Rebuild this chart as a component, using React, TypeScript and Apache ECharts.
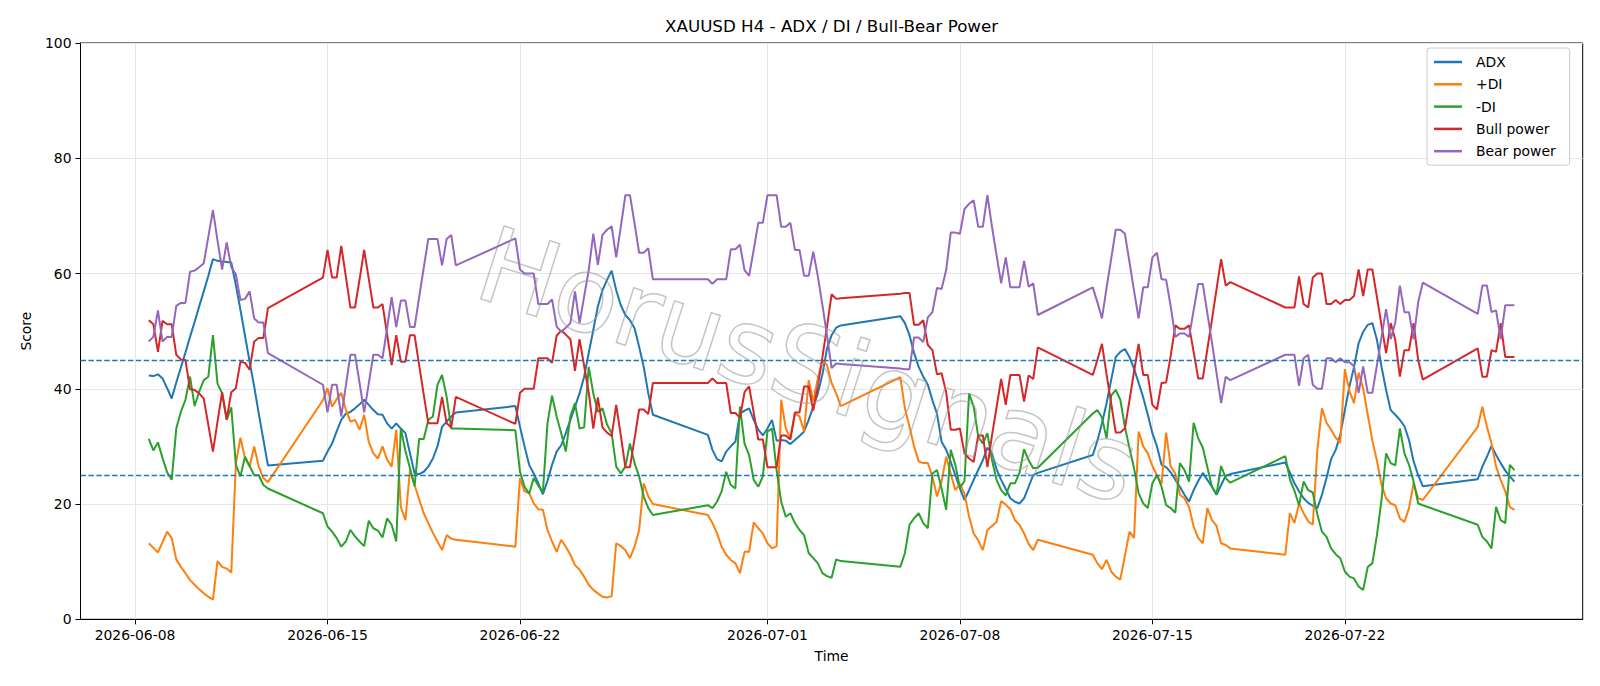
import React, { useEffect, useRef } from "react";
import * as echarts from "echarts";

// 4H bar sessions: [first bar (UTC), number of bars]
const sessions: [string, number][] = [
  ["2026-06-08T12:00:00Z", 27],
  ["2026-06-14T20:00:00Z", 30],
  ["2026-06-21T20:00:00Z", 31],
  ["2026-06-28T20:00:00Z", 30],
  ["2026-07-05T20:00:00Z", 31],
  ["2026-07-12T20:00:00Z", 31],
  ["2026-07-19T20:00:00Z", 31],
  ["2026-07-26T20:00:00Z", 9],
];

const tickDates = ["2026-06-08", "2026-06-15", "2026-06-22", "2026-07-01", "2026-07-08", "2026-07-15", "2026-07-22"];
const refLines = [45, 25];

const adx = [
  42.3, 42.2, 42.5, 41.8, 40.1, 38.3, 41.1, 43.7, 46.3, 49.0, 51.6, 54.3, 56.9, 59.6, 62.5, 62.2, 62.1, 62.0, 61.9, 58.0, 53.7, 49.2, 44.7, 40.4, 35.7, 31.2, 26.7,
  27.5, 29.1, 30.5, 32.6, 34.6, 35.7, 36.0, 36.6, 37.3, 38.1, 37.2, 36.3, 35.6, 35.5, 34.0, 33.1, 34.0, 33.1, 32.3, 28.8, 25.3, 25.2, 25.6, 26.5, 27.9, 30.0, 33.4, 34.3, 35.2, 35.9,
  37.0, 33.4, 30.0, 26.8, 25.3, 23.6, 21.7, 24.0, 26.8, 29.1, 30.2, 32.3, 34.6, 36.9, 39.2, 42.1, 46.2, 50.2, 54.3, 57.1, 58.9, 60.5, 57.1, 54.5, 52.8, 51.9, 50.5, 47.3, 43.8, 39.2, 35.5,
  32.0, 29.4, 27.8, 27.4, 29.1, 30.0, 30.8, 35.7, 36.2, 36.6, 34.6, 32.9, 31.9, 33.1, 34.6, 31.0, 31.1, 31.0, 30.4, 31.1, 31.8, 32.6, 34.6, 36.9, 39.2, 42.5, 47.0, 49.3, 50.6, 51.0,
  52.6, 51.4, 49.3, 46.2, 43.8, 42.1, 40.7, 38.0, 35.7, 30.8, 29.4, 27.3, 25.0, 22.7, 20.7, 22.4, 24.2, 25.9, 27.6, 29.8, 28.8, 26.0, 24.2, 22.6, 21.0, 20.4, 20.1, 21.0, 23.0, 25.0, 25.4,
  28.5, 31.0, 34.0, 37.5, 41.5, 45.5, 46.4, 46.9, 45.5, 43.5, 41.0, 38.5, 35.5, 32.3, 30.0, 26.8, 26.4, 25.5, 24.2, 23.0, 21.6, 20.4, 22.4, 24.0, 25.4, 24.2, 23.0, 21.6, 23.3, 24.9, 25.2,
  27.2, 25.5, 23.6, 22.2, 21.0, 20.2, 19.7, 19.3, 21.6, 24.5, 27.8, 29.4, 32.0, 36.3, 40.4, 43.8, 47.9, 49.9, 51.1, 51.4, 48.5, 43.8, 39.8, 36.3, 35.5, 34.6, 33.5, 31.1, 27.4, 25.0, 23.1,
  24.3, 26.5, 28.2, 30.1, 28.5, 27.1, 25.8, 24.8, 23.9,
];

const plusDI = [
  13.2, 12.4, 11.6, 13.4, 15.2, 14.1, 10.4, 9.1, 8.0, 6.8, 6.0, 5.2, 4.5, 3.9, 3.4, 10.1, 9.1, 8.8, 8.1, 27.0, 31.5, 28.0, 26.5, 30.0, 26.5, 24.5, 23.8,
  38.0, 40.1, 36.9, 38.2, 39.3, 36.4, 34.3, 34.6, 32.9, 35.5, 30.8, 28.8, 27.9, 30.0, 27.7, 26.5, 32.9, 19.5, 17.2, 25.9, 23.3, 20.8, 18.4, 16.7, 15.0, 13.5, 12.0, 14.6, 14.0, 13.8,
  12.6, 24.5, 22.2, 21.9, 20.1, 19.1, 19.0, 15.5, 13.5, 11.7, 13.8, 12.6, 11.2, 9.4, 8.6, 7.4, 6.0, 5.1, 4.5, 3.9, 3.8, 4.0, 13.2, 12.7, 12.0, 10.6, 12.6, 15.5, 23.6, 21.3, 20.0,
  18.1, 16.7, 14.9, 12.6, 11.2, 10.3, 9.7, 8.0, 11.7, 11.7, 16.8, 15.8, 14.9, 13.2, 12.3, 12.7, 38.1, 33.1, 31.4, 35.7, 35.2, 32.6, 41.5, 37.8, 41.8, 45.0, 44.1, 41.0, 39.2, 37.0,
  42.0, 36.6, 33.4, 30.0, 27.4, 27.1, 27.1, 24.8, 21.3, 23.9, 28.2, 25.3, 22.4, 23.5, 21.8, 17.8, 14.9, 13.7, 12.0, 15.5, 16.2, 16.9, 20.5, 19.9, 19.1, 17.2, 16.4, 14.9, 13.1, 12.0, 13.8,
  11.2, 9.7, 8.7, 10.3, 8.3, 7.4, 6.9, 11.0, 15.2, 14.1, 32.6, 30.0, 28.8, 26.6, 25.0, 23.5, 32.4, 26.5, 25.3, 21.6, 21.0, 19.5, 16.1, 14.1, 13.2, 19.3, 17.2, 16.2, 13.2, 12.9, 12.3,
  11.2, 18.4, 16.7, 20.1, 18.4, 17.0, 16.4, 29.4, 36.6, 34.1, 32.9, 31.5, 30.6, 43.4, 39.6, 37.5, 42.8, 40.0, 35.5, 31.0, 27.5, 23.3, 21.0, 20.1, 19.8, 17.5, 16.9, 19.3, 23.6, 21.0, 20.7,
  33.4, 36.9, 33.4, 30.5, 26.5, 24.2, 22.2, 19.5, 19.0,
];

const minusDI = [
  31.3, 29.3, 30.7, 28.0, 25.5, 24.2, 33.1, 36.0, 38.1, 42.1, 37.0, 39.5, 41.5, 42.1, 49.3, 40.9, 39.2, 34.6, 36.8, 26.8, 24.8, 28.2, 26.6, 25.0, 25.0, 23.3, 22.7,
  18.4, 16.1, 15.2, 14.1, 12.6, 13.5, 15.5, 14.4, 13.5, 12.7, 17.1, 15.8, 15.4, 14.2, 17.5, 16.4, 13.5, 33.1, 29.2, 26.2, 23.1, 31.3, 31.3, 34.6, 35.2, 40.7, 42.4, 38.6, 33.1, 33.1,
  32.8, 25.6, 23.0, 21.8, 24.5, 23.2, 22.0, 34.0, 38.8, 35.2, 32.3, 29.1, 35.2, 37.5, 33.1, 33.3, 43.8, 39.2, 36.0, 36.6, 33.8, 32.3, 26.5, 25.3, 26.5, 30.5, 27.1, 24.8, 21.3, 19.3, 18.1,
  19.8, 19.3, 20.4, 22.2, 25.6, 23.3, 22.7, 36.9, 30.5, 28.5, 24.2, 23.0, 24.8, 32.6, 33.1, 25.9, 20.4, 17.8, 18.4, 16.7, 15.5, 14.6, 11.5, 10.6, 9.7, 8.0, 7.5, 7.2, 10.4, 10.1,
  9.1, 11.5, 16.4, 17.5, 18.4, 16.7, 15.8, 25.3, 25.9, 22.7, 19.0, 29.4, 26.8, 22.8, 24.0, 39.2, 36.9, 31.7, 30.5, 32.3, 27.6, 24.2, 22.4, 21.5, 23.6, 23.6, 25.4, 29.5, 27.6, 26.2, 26.3,
  35.7, 36.3, 35.0, 31.4, 38.8, 39.8, 38.1, 33.4, 29.7, 26.2, 21.9, 20.1, 19.3, 23.6, 25.0, 23.0, 19.8, 19.3, 18.5, 27.1, 25.9, 23.9, 34.1, 31.4, 29.8, 26.4, 23.0, 21.7, 26.6, 24.5, 23.7,
  28.3, 24.3, 22.3, 19.8, 23.9, 22.4, 22.0, 18.2, 15.2, 14.3, 12.3, 11.3, 10.6, 8.3, 7.4, 7.1, 5.7, 5.1, 9.1, 9.7, 14.6, 20.7, 28.8, 27.1, 26.7, 33.1, 28.8, 26.8, 23.9, 20.1, 19.8,
  16.4, 14.3, 13.5, 12.3, 19.5, 17.2, 16.7, 26.8, 25.9,
];

const bullPower = [
  51.9, 51.2, 46.4, 51.8, 51.2, 51.2, 45.9, 45.1, 45.0, 39.9, 39.8, 39.2, 38.3, 33.7, 29.1, 34.3, 39.4, 34.7, 39.4, 40.1, 44.7, 44.5, 43.3, 48.2, 48.8, 48.8, 54.0,
  59.3, 64.1, 59.3, 59.3, 64.8, 59.5, 54.1, 54.1, 59.0, 64.1, 59.1, 54.1, 54.1, 54.7, 49.5, 44.1, 49.3, 44.7, 44.7, 49.3, 49.3, 44.1, 39.0, 34.0, 34.0, 34.0, 38.6, 34.0, 33.3, 38.6,
  33.9, 39.3, 40.0, 40.0, 40.0, 45.3, 45.3, 45.3, 44.5, 49.2, 50.1, 49.4, 48.6, 43.1, 48.6, 44.0, 39.4, 33.1, 38.5, 33.3, 32.4, 31.8, 37.2, 31.9, 26.4, 26.4, 31.3, 36.4, 36.4, 35.6, 41.0,
  41.0, 41.8, 41.0, 41.0, 41.0, 35.8, 35.8, 35.0, 39.4, 40.4, 35.9, 31.2, 31.2, 26.4, 26.4, 26.4, 31.9, 31.9, 31.2, 35.9, 35.9, 40.4, 40.4, 36.2, 40.5, 45.5, 50.8, 56.4, 55.6, 55.7,
  56.5, 56.6, 56.6, 51.1, 51.1, 51.9, 47.6, 46.7, 42.5, 42.7, 39.4, 32.9, 32.9, 33.1, 28.8, 27.9, 27.3, 31.9, 31.9, 26.4, 31.9, 36.8, 41.7, 37.2, 42.4, 42.4, 42.4, 37.8, 42.3, 41.7, 47.2,
  42.4, 45.0, 47.8, 42.5, 37.5, 32.4, 32.4, 33.1, 38.0, 43.0, 47.8, 42.4, 42.4, 37.2, 36.4, 41.0, 41.1, 45.7, 51.0, 50.4, 50.4, 51.0, 46.4, 41.8, 41.8, 46.9, 52.0, 57.3, 62.5, 57.9, 58.5,
  54.1, 54.1, 54.1, 59.5, 54.7, 54.1, 59.3, 60.0, 60.0, 54.7, 54.7, 55.4, 54.7, 55.4, 55.4, 56.1, 60.7, 56.1, 60.7, 60.7, 55.9, 51.0, 46.2, 51.4, 48.5, 42.1, 46.7, 46.7, 51.4, 45.0, 41.6,
  47.0, 42.1, 42.1, 46.7, 46.4, 51.4, 45.5, 45.5, 45.5,
];

const bearPower = [
  48.2, 49.0, 53.6, 48.2, 49.0, 49.0, 54.4, 54.9, 54.9, 60.3, 60.5, 61.1, 61.8, 66.4, 71.0, 65.7, 60.7, 65.4, 61.1, 59.9, 55.4, 55.6, 56.9, 52.2, 51.5, 51.5, 46.2,
  40.7, 35.9, 40.7, 40.7, 35.2, 40.5, 45.9, 45.9, 41.0, 35.9, 40.9, 45.9, 45.9, 45.3, 50.5, 55.9, 50.7, 55.3, 55.3, 50.7, 50.7, 55.9, 61.0, 66.0, 66.0, 66.0, 61.4, 66.0, 66.7, 61.4,
  66.1, 60.7, 60.0, 60.0, 60.0, 54.7, 54.7, 54.7, 55.5, 50.8, 49.9, 50.6, 51.4, 56.9, 51.4, 56.0, 60.6, 66.9, 61.5, 66.7, 67.6, 68.2, 62.8, 68.1, 73.6, 73.6, 68.7, 63.6, 63.6, 64.4, 59.0,
  59.0, 58.2, 59.0, 59.0, 59.0, 64.2, 64.2, 65.0, 60.6, 59.6, 64.1, 68.8, 68.8, 73.6, 73.6, 73.6, 68.1, 68.1, 68.8, 64.1, 64.1, 59.6, 59.6, 63.8, 59.5, 54.5, 49.2, 43.6, 44.4, 44.3,
  43.5, 43.4, 43.4, 48.9, 48.9, 48.1, 52.4, 53.3, 57.5, 57.3, 60.6, 67.1, 67.1, 66.9, 71.2, 72.1, 72.7, 68.1, 68.1, 73.6, 68.1, 63.2, 58.3, 62.8, 57.6, 57.6, 57.6, 62.2, 57.7, 58.3, 52.8,
  57.6, 55.0, 52.2, 57.5, 62.5, 67.6, 67.6, 66.9, 62.0, 57.0, 52.2, 57.6, 57.6, 62.8, 63.6, 59.0, 58.9, 54.3, 49.0, 49.6, 49.6, 49.0, 53.6, 58.2, 58.2, 53.1, 48.0, 42.7, 37.5, 42.1, 41.5,
  45.9, 45.9, 45.9, 40.5, 45.3, 45.9, 40.7, 40.0, 40.0, 45.3, 45.3, 44.6, 45.3, 44.6, 44.6, 43.9, 39.3, 43.9, 39.3, 39.3, 44.1, 49.0, 53.8, 48.6, 51.5, 57.9, 53.3, 53.3, 48.6, 55.0, 58.4,
  53.0, 57.9, 57.9, 53.3, 53.6, 48.6, 54.5, 54.5, 54.5,
];

const seriesDefs: [string, number[], string][] = [
  ["ADX", adx, "#1f77b4"],
  ["+DI", plusDI, "#ff7f0e"],
  ["-DI", minusDI, "#2ca02c"],
  ["Bull power", bullPower, "#d62728"],
  ["Bear power", bearPower, "#9467bd"],
];

const BASE = Date.parse("2026-06-08T00:00:00Z");
const DAY = 86400000;
const BAR = 4 * 3600000;

function barDays(): number[] {
  const out: number[] = [];
  for (const [start, n] of sessions) {
    const t0 = Date.parse(start);
    for (let i = 0; i < n; i++) out.push((t0 + i * BAR - BASE) / DAY);
  }
  return out;
}

function fmtDay(v: number): string {
  const d = new Date(BASE + Math.round(v * DAY));
  const p = (n: number) => (n < 10 ? "0" + n : "" + n);
  return d.getUTCFullYear() + "-" + p(d.getUTCMonth() + 1) + "-" + p(d.getUTCDate());
}

export default function App() {
  const ref = useRef<HTMLDivElement>(null);
  useEffect(() => {
    if (!ref.current) return;
    const chart = echarts.init(ref.current, undefined, { renderer: "svg" });
    const xs = barDays();
    const first = xs[0];
    const last = xs[xs.length - 1];
    const pad = (last - first) * 0.05;
    const tickPos = tickDates.map((s) => (Date.parse(s + "T00:00:00Z") - BASE) / DAY);
    const font = "DejaVu Sans";

    const series: any[] = seriesDefs.map(([name, vals, color]) => ({
      name,
      type: "line",
      data: xs.map((x, i) => [x, vals[i]]),
      showSymbol: false,
      symbol: "none",
      lineStyle: { width: 2, color },
      itemStyle: { color },
      z: 3,
    }));
    series.push({
      name: "ref",
      type: "line",
      data: [],
      z: 4,
      markLine: {
        silent: true,
        symbol: ["none", "none"],
        label: { show: false },
        lineStyle: { color: "#1f77b4", type: [5.5, 2.4], width: 1.4 },
        data: refLines.map((v) => ({ yAxis: v })),
      },
    });

    chart.setOption({
      animation: false,
      backgroundColor: "#ffffff",
      title: {
        text: "XAUUSD H4 - ADX / DI / Bull-Bear Power",
        left: 831.6,
        top: 17,
        padding: 0,
        textAlign: "center",
        textStyle: { fontFamily: font, fontSize: 16.7, fontWeight: "normal", color: "#000" },
      },
      legend: {
        data: seriesDefs.map((s) => s[0]),
        orient: "vertical",
        left: 1427,
        top: 48,
        padding: [7, 14, 7, 7],
        itemWidth: 28,
        itemHeight: 2.5,
        itemGap: 8.3,
        icon: "rect",
        backgroundColor: "rgba(255,255,255,0.8)",
        borderColor: "#cccccc",
        borderWidth: 1,
        borderRadius: 3,
        textStyle: { fontFamily: font, fontSize: 13.9, color: "#000", lineHeight: 14, padding: [0, 0, 0, 9] },
      },
      grid: {
        left: 80.5,
        right: 17.3,
        top: 43,
        bottom: 66.7,
        show: true,
        borderColor: "#000",
        borderWidth: 1,
        backgroundColor: "transparent",
      },
      xAxis: {
        type: "value",
        min: first - pad,
        max: last + pad,
        name: "Time",
        nameLocation: "middle",
        nameGap: 30,
        nameTextStyle: { fontFamily: font, fontSize: 13.9, color: "#000" },
        axisLine: { show: true, onZero: false, lineStyle: { color: "#000", width: 1 } },
        axisTick: { show: true, length: 5, lineStyle: { color: "#000", width: 1 }, customValues: tickPos },
        axisLabel: {
          customValues: tickPos,
          formatter: (v: number) => fmtDay(v),
          fontFamily: font,
          fontSize: 13.9,
          color: "#000",
          margin: 9,
        },
        splitLine: { show: true, lineStyle: { color: "#e6e6e6", width: 1 } },
      },
      yAxis: {
        type: "value",
        min: 0,
        max: 100,
        interval: 20,
        name: "Score",
        nameLocation: "middle",
        nameGap: 48,
        nameTextStyle: { fontFamily: font, fontSize: 13.9, color: "#000" },
        axisLine: { show: true, onZero: false, lineStyle: { color: "#000", width: 1 } },
        axisTick: { show: true, length: 5, lineStyle: { color: "#000", width: 1 } },
        axisLabel: { fontFamily: font, fontSize: 13.9, color: "#000", margin: 9 },
        splitLine: { show: true, lineStyle: { color: "#e6e6e6", width: 1 } },
      },
      graphic: [
        {
          type: "text",
          x: 808,
          y: 366,
          rotation: -0.31,
          z: 100,
          silent: true,
          style: {
            text: "HorusSignals",
            font: '105px "DejaVu Sans"',
            fill: "rgba(255,255,255,0)",
            stroke: "rgba(150,150,150,0.55)",
            lineWidth: 1.5,
            align: "center",
            verticalAlign: "middle",
          },
        },
      ],
      series,
    });
    return () => chart.dispose();
  }, []);
  return (
    <div
      ref={ref}
      style={{ position: "absolute", left: 0, top: 0, width: 1600, height: 686, background: "#fff" }}
    />
  );
}
